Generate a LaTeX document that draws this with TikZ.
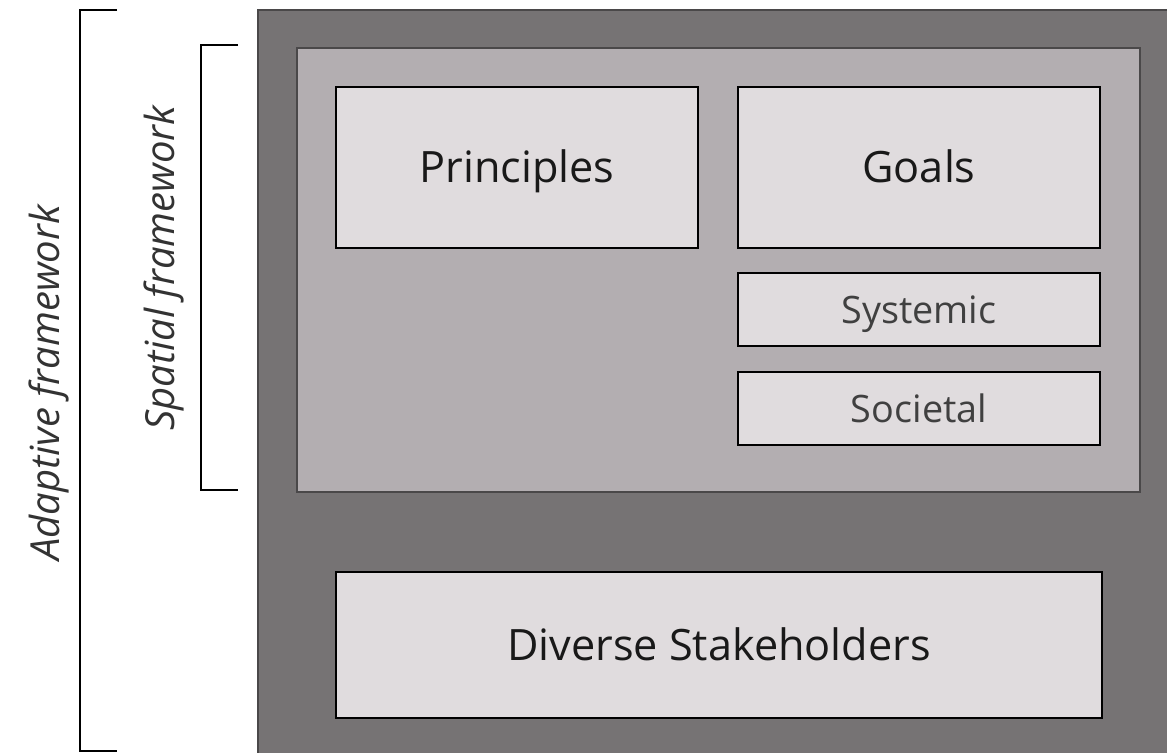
\documentclass[tikz,border=0pt]{standalone}
\usepackage{fontspec}
\setmainfont{Open Sans}
\usepackage{tikz}
\usetikzlibrary{positioning}
\definecolor{outerfill}{HTML}{767374}
\definecolor{innerfill}{HTML}{B3AEB1}
\definecolor{boxfill}{HTML}{E0DCDE}
\definecolor{framegray}{HTML}{4A4849}

\tikzset{
  panel/.style={draw=black, line width=0.8pt, fill=boxfill, inner sep=0pt, text depth=0pt},
  bigpanel/.style={panel, minimum width=7.24cm, minimum height=3.22cm, text height=17.6pt, text=black!90, font=\fontsize{24.6}{28}\selectfont},
  smallpanel/.style={panel, minimum width=7.24cm, minimum height=1.46cm, text height=16pt, text=black!75, font=\fontsize{21.5}{24}\selectfont},
  bracketline/.style={line width=1.2pt},
  sidelabel/.style={rotate=90, font=\itshape\fontsize{22.8}{26}\selectfont, text=black!80}
}

\begin{document}
\begin{tikzpicture}[x=0.02cm, y=-0.02cm]
\useasboundingbox (0,0) rectangle (1167,753);
% layered frames
\fill[outerfill, draw=framegray, line width=0.8pt] (258,10) rectangle (1180,770);
\fill[innerfill, draw=framegray, line width=0.6pt] (297,48) rectangle (1140,492);
% boxes
\node[bigpanel] (principles) at (517,167.5) {Principles};
\node[bigpanel] (goals) at (919,167.5) {Goals};
\node[smallpanel] (systemic) at (919,309.5) {Systemic};
\node[smallpanel] (societal) at (919,408.5) {Societal};
\node[bigpanel, minimum width=15.32cm, minimum height=2.92cm] (stakeholders) at (719,645) {Diverse Stakeholders};
% brackets
\coordinate (adtop) at (117,10);
\coordinate (adbot) at (117,751);
\coordinate (sptop) at (238,45);
\coordinate (spbot) at (238,490);
\draw[bracketline] (adtop) -| (80,751) -- (adbot);
\draw[bracketline] (sptop) -| (201,490) -- (spbot);
\node[sidelabel] (adaptive) at (49,383) {Adaptive framework};
\node[sidelabel] (spatial) at (164,268) {Spatial framework};
\end{tikzpicture}
\end{document}
